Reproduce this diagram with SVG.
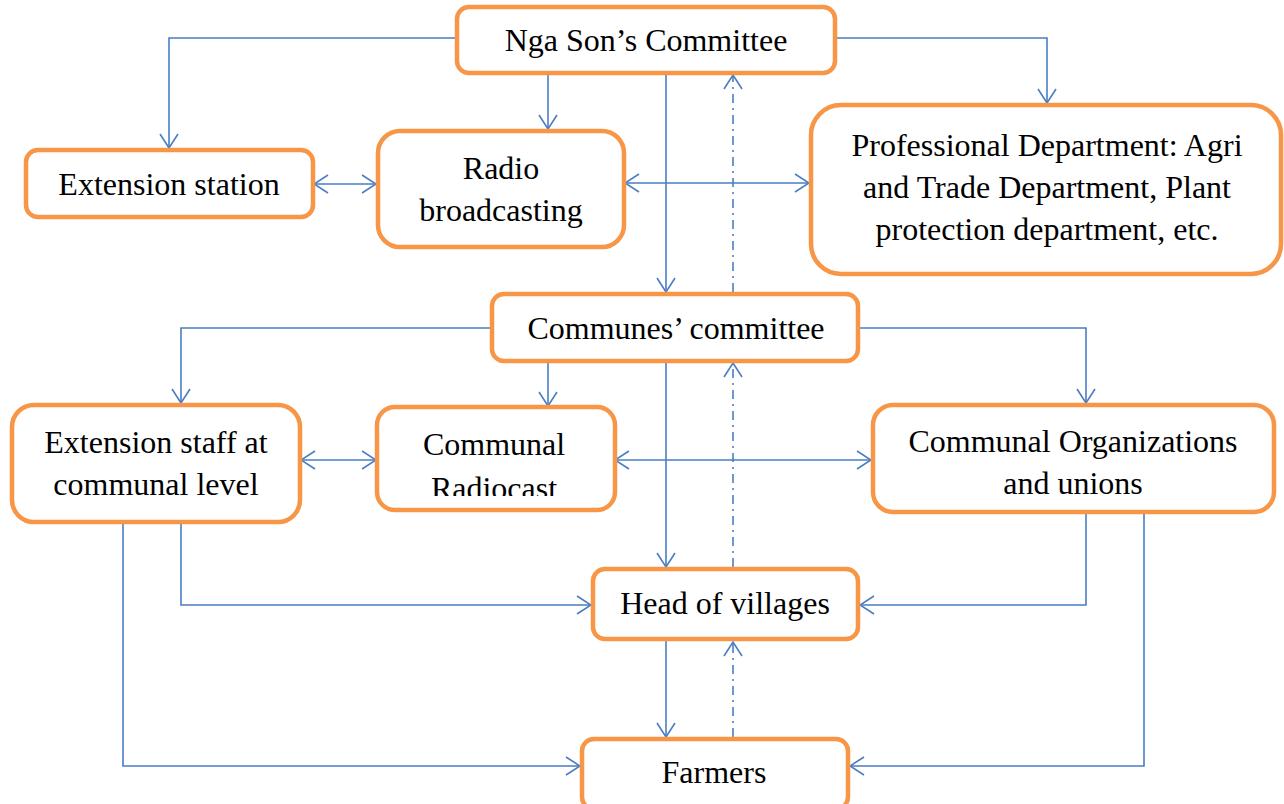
<svg xmlns="http://www.w3.org/2000/svg" width="1284" height="804" viewBox="0 0 1284 804">
  <defs>
    <style>
      .box { fill: #ffffff; stroke: #F79646; stroke-width: 4.5; }
      .lbl { font-family: "Liberation Serif", "Times New Roman", serif; font-size: 32px; fill: #000000; text-anchor: middle; }
      .ln { fill: none; stroke: #4A7EC4; stroke-width: 1.6; }
      .dd { stroke-dasharray: 9 5 2 5; }
    </style>
    <marker id="arr" viewBox="0 0 16 20" refX="15" refY="10" markerWidth="16" markerHeight="20" markerUnits="userSpaceOnUse" orient="auto-start-reverse">
      <path d="M1,1 L15,10 L1,19" fill="none" stroke="#4A7EC4" stroke-width="1.6"/>
    </marker>
    <clipPath id="clipRadiocast">
      <rect x="377" y="407" width="238" height="89"/>
    </clipPath>
  </defs>

  <rect width="1284" height="804" fill="#ffffff"/>

  <!-- connectors -->
  <g id="connectors">
    <!-- district committee outputs -->
    <polyline class="ln" points="455,38 169,38 169,148" marker-end="url(#arr)"/>
    <line class="ln" x1="548" y1="73" x2="548" y2="129" marker-end="url(#arr)"/>
    <line class="ln" x1="666" y1="73" x2="666" y2="292" marker-end="url(#arr)"/>
    <line class="ln dd" x1="733" y1="292" x2="733" y2="75" marker-end="url(#arr)"/>
    <polyline class="ln" points="836,38 1047,38 1047,103" marker-end="url(#arr)"/>
    <line class="ln" x1="314" y1="184" x2="376" y2="184" marker-start="url(#arr)" marker-end="url(#arr)"/>
    <line class="ln" x1="625" y1="183" x2="809" y2="183" marker-start="url(#arr)" marker-end="url(#arr)"/>

    <!-- commune committee outputs -->
    <polyline class="ln" points="491,328 181,328 181,403" marker-end="url(#arr)"/>
    <line class="ln" x1="548" y1="361" x2="548" y2="406" marker-end="url(#arr)"/>
    <line class="ln" x1="666" y1="361" x2="666" y2="567" marker-end="url(#arr)"/>
    <line class="ln dd" x1="733" y1="567" x2="733" y2="363" marker-end="url(#arr)"/>
    <polyline class="ln" points="859,328 1086,328 1086,403" marker-end="url(#arr)"/>
    <line class="ln" x1="301" y1="460" x2="376" y2="460" marker-start="url(#arr)" marker-end="url(#arr)"/>
    <line class="ln" x1="615" y1="460" x2="871" y2="460" marker-start="url(#arr)" marker-end="url(#arr)"/>

    <!-- village level -->
    <polyline class="ln" points="181,523 181,605 591,605" marker-end="url(#arr)"/>
    <polyline class="ln" points="1086,513 1086,605 860,605" marker-end="url(#arr)"/>
    <line class="ln" x1="666" y1="640" x2="666" y2="737" marker-end="url(#arr)"/>
    <line class="ln dd" x1="733" y1="737" x2="733" y2="642" marker-end="url(#arr)"/>
    <polyline class="ln" points="123,523 123,766 580,766" marker-end="url(#arr)"/>
    <polyline class="ln" points="1144,513 1144,766 850,766" marker-end="url(#arr)"/>
  </g>

  <!-- nodes -->
  <g id="nga-son-committee">
    <rect class="box" x="457" y="7" width="378" height="66" rx="12"/>
    <text class="lbl" x="646" y="51">Nga Son’s Committee</text>
  </g>

  <g id="extension-station">
    <rect class="box" x="26" y="150" width="287" height="67" rx="12"/>
    <text class="lbl" x="169" y="195">Extension station</text>
  </g>

  <g id="radio-broadcasting">
    <rect class="box" x="378" y="131" width="246" height="116" rx="22"/>
    <text class="lbl" x="501" y="179">Radio</text>
    <text class="lbl" x="501" y="221">broadcasting</text>
  </g>

  <g id="professional-department">
    <rect class="box" x="811" y="105" width="470" height="169" rx="30"/>
    <text class="lbl" x="1047" y="156">Professional Department: Agri</text>
    <text class="lbl" x="1047" y="198">and Trade Department, Plant</text>
    <text class="lbl" x="1047" y="240">protection department, etc.</text>
  </g>

  <g id="communes-committee">
    <rect class="box" x="492" y="294" width="366" height="67" rx="12"/>
    <text class="lbl" x="676" y="339">Communes’ committee</text>
  </g>

  <g id="extension-staff">
    <rect class="box" x="12" y="405" width="288" height="117" rx="22"/>
    <text class="lbl" x="156" y="453">Extension staff at</text>
    <text class="lbl" x="156" y="495">communal level</text>
  </g>

  <g id="communal-radiocast">
    <rect class="box" x="377" y="407" width="238" height="103" rx="18"/>
    <g clip-path="url(#clipRadiocast)">
      <text class="lbl" x="494" y="455">Communal</text>
      <text class="lbl" x="494" y="499">Radiocast</text>
    </g>
  </g>

  <g id="communal-organizations">
    <rect class="box" x="873" y="405" width="401" height="107" rx="20"/>
    <text class="lbl" x="1073" y="452">Communal Organizations</text>
    <text class="lbl" x="1073" y="494">and unions</text>
  </g>

  <g id="head-of-villages">
    <rect class="box" x="593" y="569" width="265" height="70" rx="12"/>
    <text class="lbl" x="725" y="614">Head of villages</text>
  </g>

  <g id="farmers">
    <rect class="box" x="582" y="739" width="266" height="70" rx="12"/>
    <text class="lbl" x="714" y="783">Farmers</text>
  </g>
</svg>
